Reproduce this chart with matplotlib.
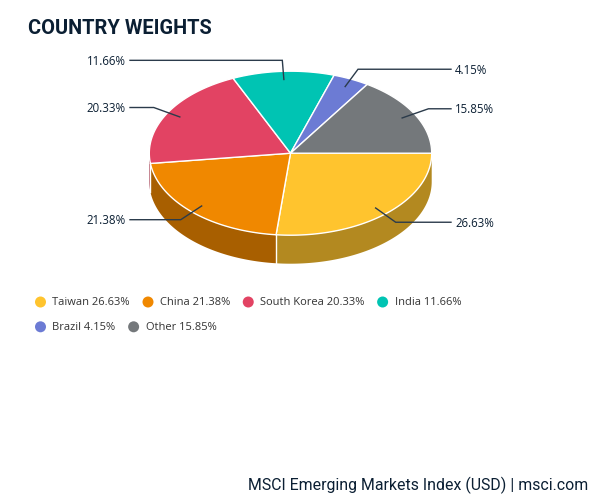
import numpy as np
import matplotlib
matplotlib.use("Agg")
import matplotlib.pyplot as plt
from matplotlib.patches import Polygon, Circle
from matplotlib.colors import to_rgb

# ---- data ----
countries = ["Taiwan", "China", "South Korea", "India", "Brazil", "Other"]
weights = [26.63, 21.38, 20.33, 11.66, 4.15, 15.85]
colors = ["#FFC42E", "#F08800", "#E24363", "#00C4B3", "#6C7BD4", "#74787B"]
title = "COUNTRY WEIGHTS"
footer = "MSCI Emerging Markets Index (USD) | msci.com"

W, H = 599, 502
fig = plt.figure(figsize=(W / 100, H / 100), dpi=100)
ax = fig.add_axes([0, 0, 1, 1])
ax.set_xlim(0, W)
ax.set_ylim(H, 0)
ax.axis("off")

TXT = "#0B1F33"
cx, cy, rx, ry, depth = 290.5, 154.2, 141.2, 82.0, 28.5


def darken(c, f=0.7):
    r, g, b = to_rgb(c)
    return (r * f, g * f, b * f)


def pt(theta_deg, fx=1.0, fy=None):
    if fy is None:
        fy = fx
    t = np.radians(theta_deg)
    return cx + rx * fx * np.cos(t), cy + ry * fy * np.sin(t)


total = sum(weights)
bounds = np.concatenate([[0], np.cumsum(weights) / total * 360.0])

# side walls (front half: 0..180 deg, y grows downward)
for i, c in enumerate(colors):
    a0, a1 = max(bounds[i], 0), min(bounds[i + 1], 180)
    if a1 <= a0:
        continue
    th = np.linspace(a0, a1, 120)
    xs, ys = pt(th)
    poly = np.column_stack([np.concatenate([xs, xs[::-1]]),
                            np.concatenate([ys, ys[::-1] + depth])])
    ax.add_patch(Polygon(poly, closed=True, facecolor=darken(c), edgecolor="none", zorder=1))
for b in bounds[1:-1]:
    if 0 < b < 180:
        x, y = pt(b)
        ax.plot([x, x], [y, y + depth], color="white", lw=1.0, zorder=2)

# top faces
for i, c in enumerate(colors):
    th = np.linspace(bounds[i], bounds[i + 1], 200)
    xs, ys = pt(th)
    poly = np.column_stack([np.concatenate([[cx], xs]), np.concatenate([[cy], ys])])
    ax.add_patch(Polygon(poly, closed=True, facecolor=c, edgecolor="white", lw=1.0,
                         joinstyle="round", zorder=3))

# data labels with connectors
for i, w in enumerate(weights):
    mid = (bounds[i] + bounds[i + 1]) / 2
    ax0, ay0 = pt(mid, 0.9)
    t = np.radians(mid)
    bx, by = cx + 157 * np.cos(t), cy + 93 * np.sin(t)
    right = np.cos(t) >= 0
    ex = 451 if right else 130
    ax.plot([ax0, bx, ex], [ay0, by, by], color="#2B3B4B", lw=1.0, zorder=4,
            solid_joinstyle="miter")
    ax.text(455 if right else 126, by, f"{w:.2f}%", ha="left" if right else "right",
            va="center", fontsize=8.3, family="Open Sans", color=TXT, zorder=5)

# title & footer
ax.text(28, 28, title, fontsize=14.4, family="Roboto", fontweight="bold",
        color=TXT, ha="left", va="center")
ax.text(588, 485, footer, fontsize=11.4, family="Roboto", color=TXT,
        ha="right", va="center")

# legend (flow layout)
fig.canvas.draw()
renderer = fig.canvas.get_renderer()
x0, y0, row_h, max_x = 35.0, 303.0, 24.8, 480
x, y = x0, y0
for name, w, c in zip(countries, weights, colors):
    label = f"{name} {w:.2f}%"
    t = ax.text(0, 0, label, fontsize=8.0, family="Open Sans", color="#333333",
                ha="left", va="center")
    bb = t.get_window_extent(renderer)
    tw = bb.width
    if x + 17.5 + tw > max_x and x > x0:
        x = x0
        y += row_h
    ax.add_patch(Circle((x + 5.5, y), 5.5, facecolor=c, edgecolor="none"))
    t.set_position((x + 17.5, y))
    x = x + 17.5 + tw + 12.5

fig.savefig("out.png", dpi=100, facecolor="white")
